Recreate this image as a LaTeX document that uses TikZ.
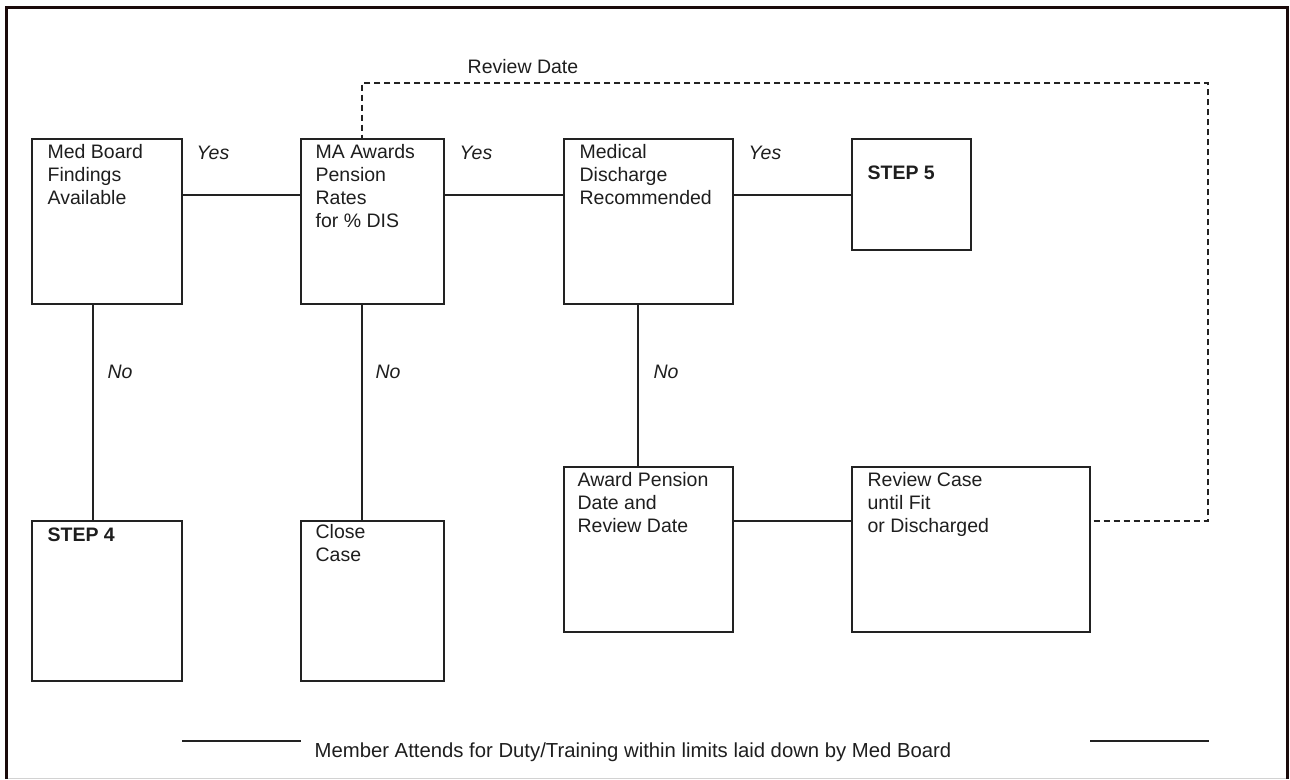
\documentclass[tikz,border=0pt]{standalone}
\usepackage{fontspec}
\setmainfont{Liberation Sans}
\definecolor{framec}{HTML}{1A0A0A}
\definecolor{linec}{HTML}{222222}
\definecolor{textc}{HTML}{1E1E1E}
\begin{document}
\begin{tikzpicture}[x=1pt,y=-1pt,
  box/.style={draw=linec, line width=1.2pt, inner sep=0pt, rectangle},
  txt/.style={anchor=north west, align=left, inner sep=0pt, text=textc,
    font=\fontsize{19.5}{23}\selectfont},
  steptxt/.style={anchor=west, inner sep=0pt, text=textc,
    font=\fontsize{19.5}{22}\selectfont\bfseries},
  lab/.style={inner sep=0pt, text=textc, font=\fontsize{19.5}{23}\selectfont\itshape},
  plain/.style={inner sep=0pt, text=textc, font=\fontsize{20.3}{24}\selectfont},
  conn/.style={draw=linec, line width=1.2pt},
  dashconn/.style={draw=linec, line width=1.2pt, dash pattern=on 6pt off 4pt}]
\useasboundingbox (0,0) rectangle (1290,779);
% frame
\draw[gray!35, line width=1pt] (6,778) -- (1287,778);
\draw[framec, line width=3pt] (6,779) -- (6,7) -- (1287,7) -- (1287,779);

% boxes
\node[box, minimum width=150pt, minimum height=165pt] (mb) at (107,221.5) {};
\node[box, minimum width=143pt, minimum height=165pt] (ma) at (372.5,221.5) {};
\node[box, minimum width=169pt, minimum height=165pt] (md) at (648.5,221.5) {};
\node[box, minimum width=119pt, minimum height=111pt] (s5) at (911.5,194.5) {};
\node[box, minimum width=150pt, minimum height=160pt] (s4) at (107,601) {};
\node[box, minimum width=143pt, minimum height=160pt] (cc) at (372.5,601) {};
\node[box, minimum width=169pt, minimum height=165pt] (ap) at (648.5,549.5) {};
\node[box, minimum width=238pt, minimum height=165pt] (rc) at (971,549.5) {};

% box texts
\node[txt] (mbt) at ([xshift=16pt,yshift=-6pt]mb.north west) {Med Board\\Findings\\Available};
\node[txt] (mat) at ([xshift=15pt,yshift=-6pt]ma.north west) {MA Awards\\Pension\\Rates\\for \% DIS};
\node[txt] (mdt) at ([xshift=16pt,yshift=-6pt]md.north west) {Medical\\Discharge\\Recommended};
\node[steptxt] (s5t) at ([xshift=16pt,yshift=-34pt]s5.north west) {STEP 5};
\node[steptxt] (s4t) at ([xshift=16pt,yshift=-14pt]s4.north west) {STEP 4};
\node[txt] (cct) at ([xshift=15pt,yshift=-4pt]cc.north west) {Close\\Case};
\node[txt] (apt) at ([xshift=14pt,yshift=-6pt]ap.north west) {Award Pension\\Date and\\Review Date};
\node[txt] (rct) at ([xshift=16pt,yshift=-6pt]rc.north west) {Review Case\\until Fit\\or Discharged};

% helper coordinates
\coordinate (h1) at (0,195);
\coordinate (h2) at (0,521);
\coordinate (v1) at (93,0);
\coordinate (v2) at (362,0);
\coordinate (v3) at (638,0);
\coordinate (d1) at (1208,521);
\coordinate (d2) at (1208,83);
\coordinate (d3) at (362,83);

% connectors
\draw[conn] (mb.east |- h1) -- (ma.west |- h1);
\draw[conn] (ma.east |- h1) -- (md.west |- h1);
\draw[conn] (md.east |- h1) -- (s5.west |- h1);
\draw[conn] (mb.south -| v1) -- (s4.north -| v1);
\draw[conn] (ma.south -| v2) -- (cc.north -| v2);
\draw[conn] (md.south -| v3) -- (ap.north -| v3);
\draw[conn] (ap.east |- h2) -- (rc.west |- h2);
\draw[dashconn] ([xshift=3pt]rc.east |- h2) -- (d1) -- (d2) -- (d3) -- (ma.north -| d3);

% labels
\node[lab] (y1) at (213,153) {Yes};
\node[lab] (y2) at (476,153) {Yes};
\node[lab] (y3) at (765,153) {Yes};
\node[lab] (n1) at (120,372) {No};
\node[lab] (n2) at (388,372) {No};
\node[lab] (n3) at (666,372) {No};
\node[lab, font=\fontsize{19.5}{23}\selectfont] (rd) at (523,67) {Review Date};

% bottom
\node[plain] (member) at (633,752) {Member Attends for Duty/Training within limits laid down by Med Board};
\coordinate (bl1) at (182,741);
\coordinate (bl2) at (301,741);
\coordinate (br1) at (1090,741);
\coordinate (br2) at (1209,741);
\draw[conn] (bl1) -- (bl2);
\draw[conn] (br1) -- (br2);
\end{tikzpicture}
\end{document}
